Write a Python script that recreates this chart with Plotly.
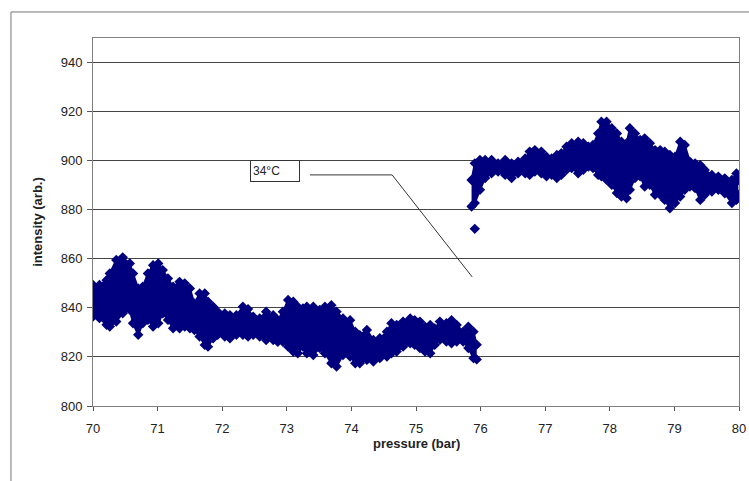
import plotly.graph_objects as go

# ---- data (envelope of the dense scatter band) ----
# segment below the transition (70 - 75.95 bar)
p1 = [70.00, 70.10, 70.21, 70.26, 70.36, 70.46, 70.57, 70.62, 70.70, 70.77, 70.85, 70.93,
      71.01, 71.08, 71.16, 71.24, 71.34, 71.42, 71.50, 71.57, 71.65, 71.73, 71.78, 71.86,
      71.93, 72.04, 72.12, 72.22, 72.32, 72.40, 72.48, 72.58, 72.68, 72.79, 72.86, 72.94,
      73.02, 73.10, 73.17, 73.25, 73.31, 73.41, 73.51, 73.59, 73.69, 73.77, 73.87, 73.98,
      74.06, 74.13, 74.24, 74.34, 74.44, 74.55, 74.62, 74.70, 74.80, 74.91, 74.98, 75.06,
      75.14, 75.22, 75.29, 75.37, 75.47, 75.55, 75.63, 75.73, 75.81, 75.89, 75.94]
hi1 = [849.3, 849.3, 851.3, 854.0, 859.5, 860.6, 858.1, 854.0, 847.9, 848.6, 854.0, 857.4,
       858.1, 855.4, 852.0, 848.6, 850.6, 850.0, 847.9, 841.8, 845.9, 845.9, 842.5, 840.5,
       838.4, 837.7, 837.0, 837.0, 840.5, 839.5, 836.4, 835.7, 838.4, 837.0, 835.0, 838.4,
       843.2, 842.5, 840.5, 839.8, 840.5, 840.5, 839.1, 840.5, 841.1, 838.4, 835.7, 835.0,
       830.3, 828.9, 831.0, 826.9, 827.6, 830.3, 833.7, 833.0, 834.4, 835.7, 835.0, 834.4,
       832.3, 833.0, 831.6, 834.4, 833.7, 835.0, 833.0, 830.3, 832.3, 830.3, 825.0]
lo1 = [836.5, 835.8, 833.1, 832.4, 834.4, 837.8, 839.2, 833.7, 829.0, 833.7, 835.1, 832.4,
       833.7, 837.8, 835.1, 831.7, 831.7, 832.4, 831.7, 831.0, 828.3, 824.9, 824.2, 827.6,
       829.0, 828.3, 827.6, 829.0, 829.0, 828.3, 829.0, 828.3, 826.9, 826.9, 826.2, 826.2,
       824.2, 822.2, 821.5, 824.2, 821.5, 820.8, 823.6, 821.5, 817.4, 816.1, 820.8, 820.2,
       817.4, 817.4, 818.8, 818.1, 819.5, 820.2, 821.5, 822.2, 824.2, 825.6, 824.9, 823.6,
       822.2, 821.5, 824.9, 827.0, 826.3, 825.6, 826.3, 826.3, 823.6, 819.5, 819.0]

# segment above the transition (75.86 - 80 bar)
p2 = [75.86, 75.91, 75.99, 76.07, 76.17, 76.27, 76.38, 76.48, 76.58, 76.69, 76.76, 76.84,
      76.94, 77.02, 77.10, 77.18, 77.25, 77.33, 77.41, 77.51, 77.59, 77.67, 77.74, 77.82,
      77.87, 77.95, 78.03, 78.11, 78.18, 78.26, 78.31, 78.39, 78.47, 78.54, 78.62, 78.70,
      78.78, 78.85, 78.93, 79.01, 79.09, 79.16, 79.24, 79.32, 79.40, 79.47, 79.58, 79.68,
      79.78, 79.89, 79.96, 79.99]
hi2 = [892.1, 898.9, 900.3, 900.3, 900.3, 898.9, 900.3, 898.9, 899.6, 900.9, 903.7, 904.3,
       903.7, 901.6, 900.9, 902.3, 903.0, 905.7, 907.1, 907.7, 907.1, 905.7, 906.4, 911.1,
       915.9, 915.9, 913.2, 911.1, 907.7, 907.1, 913.2, 911.1, 908.4, 909.1, 907.1, 904.3,
       904.3, 903.7, 902.3, 901.6, 907.7, 906.4, 899.6, 898.9, 898.2, 896.2, 894.2, 893.5,
       892.8, 892.1, 894.8, 892.1]
lo2 = [881.3, 882.7, 888.1, 892.9, 894.9, 895.6, 894.2, 892.9, 894.9, 894.9, 894.2, 895.6,
       894.9, 893.6, 894.2, 892.9, 894.2, 896.3, 897.0, 894.9, 896.3, 897.6, 897.0, 894.2,
       893.6, 892.2, 890.2, 886.8, 885.4, 884.7, 888.1, 892.9, 893.6, 889.5, 890.2, 886.1,
       886.1, 884.0, 880.6, 882.7, 885.4, 888.1, 889.5, 888.8, 884.0, 886.1, 887.4, 888.1,
       886.7, 882.7, 884.0, 886.1]

# isolated points
p_out = [75.91]
i_out = [872.2]

x_ticks = [70, 71, 72, 73, 74, 75, 76, 77, 78, 79, 80]
y_ticks = [800, 820, 840, 860, 880, 900, 920, 940]

label_text = "34°C"
label_pos = (72.82, 895.8)
leader_x = [73.36, 74.63, 75.87]
leader_y = [894.2, 894.2, 852.6]

NAVY = "#00007f"
FONT = "Liberation Sans, Arial, sans-serif"

fig = go.Figure()


def band(px, lo, hi):
    fig.add_trace(go.Scatter(x=px, y=lo, mode="lines+markers",
                             line=dict(color=NAVY, width=2),
                             marker=dict(symbol="diamond", size=8, color=NAVY),
                             hoverinfo="skip", showlegend=False))
    fig.add_trace(go.Scatter(x=px, y=hi, mode="lines+markers", fill="tonexty",
                             fillcolor=NAVY,
                             line=dict(color=NAVY, width=2),
                             marker=dict(symbol="diamond", size=8, color=NAVY),
                             hoverinfo="skip", showlegend=False))


band(p1, lo1, hi1)
band(p2, lo2, hi2)
fig.add_trace(go.Scatter(x=p_out, y=i_out, mode="markers",
                         marker=dict(symbol="diamond", size=8, color=NAVY),
                         showlegend=False))

# leader line of the label
fig.add_trace(go.Scatter(x=leader_x, y=leader_y, mode="lines",
                         line=dict(color="#333333", width=1),
                         hoverinfo="skip", showlegend=False))

fig.add_annotation(x=label_pos[0], y=label_pos[1], xref="x", yref="y",
                   text=label_text, showarrow=False, align="left",
                   font=dict(family=FONT, size=12, color="#222222"),
                   bordercolor="#333333", borderwidth=1, borderpad=2,
                   bgcolor="white", width=44, height=16)

# axis titles
fig.add_annotation(x=0.5, y=-0.075, xref="paper", yref="paper",
                   xanchor="center", yanchor="top",
                   text="<b>pressure (bar)</b>", showarrow=False,
                   font=dict(family=FONT, size=13, color="#222222"))
fig.add_annotation(x=-0.087, y=0.5, xref="paper", yref="paper", textangle=-90,
                   xanchor="center", yanchor="middle",
                   text="<b>intensity (arb.)</b>", showarrow=False,
                   font=dict(family=FONT, size=13, color="#222222"))

# outer chart border
fig.add_shape(type="rect", xref="paper", yref="paper",
              x0=-0.127, x1=1.2, y0=-0.5, y1=1.0707,
              line=dict(color="#777777", width=1), layer="below")

fig.update_xaxes(range=[70, 80], tickvals=x_ticks, ticks="outside", ticklen=4,
                 tickcolor="#555555", showgrid=False, zeroline=False,
                 showline=True, linecolor="#808080", linewidth=1, mirror=True,
                 ticklabelstandoff=6, automargin=False,
                 tickfont=dict(family=FONT, size=13, color="#222222"))
fig.update_yaxes(range=[800, 950], tickvals=y_ticks, ticks="outside", ticklen=5,
                 tickcolor="#555555", showgrid=True, gridcolor="#444444", gridwidth=1,
                 zeroline=False, showline=True, linecolor="#808080", linewidth=1,
                 mirror=True, ticklabelstandoff=2, automargin=False,
                 tickfont=dict(family=FONT, size=13, color="#222222"))

fig.update_layout(width=749, height=481,
                  margin=dict(l=93, r=10, t=38, b=75),
                  paper_bgcolor="white", plot_bgcolor="white",
                  showlegend=False)

fig.write_html("out.html",
               config={"displayModeBar": False},
               post_script="document.body.style.margin='0';"
                           "document.body.style.overflow='hidden';")
